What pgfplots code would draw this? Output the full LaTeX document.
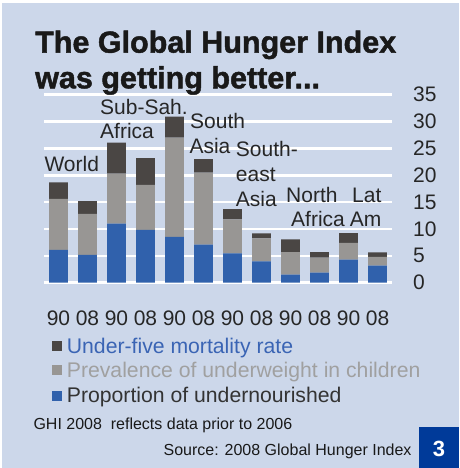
\documentclass[border=0pt]{standalone}
\usepackage{pgfplots}
\pgfplotsset{compat=1.18}
\usepackage{pgfplotstable}
\usepackage{fontspec}
\setmainfont{Liberation Sans}
\newfontfamily\titlefont[FakeBold=1.5]{Liberation Sans Bold}

\definecolor{bg}{HTML}{CCD7EA}
\definecolor{cblue}{HTML}{3061AC}
\definecolor{cgray}{HTML}{989694}
\definecolor{cdark}{HTML}{4A4644}
\definecolor{ltblue}{HTML}{3A64B4}
\definecolor{ltgray}{HTML}{A0A0A0}
\definecolor{navy}{HTML}{003A99}

% x, undernourished, underweight, under-five mortality
\pgfplotstableread{
x b g d
0 6.1 9.5 3.1
1 5.2 7.6 2.4
2 11.0 9.3 5.8
3 9.85 8.35 5.0
4 8.55 18.45 3.9
5 7.07 13.43 2.5
6 5.46 6.34 1.9
7 3.97 4.28 0.93
8 1.5 4.2 2.36
9 1.86 2.79 1.05
10 4.28 3.15 1.81
11 3.16 1.67 0.81
}\ghi

\newcommand\lbl{\fontsize{21}{21}\selectfont}
\newcommand\sml{\fontsize{16}{16}\selectfont}

\begin{document}
\begin{tikzpicture}[x=1pt,y=1pt]
\fill[white] (0,0) rectangle (459,-468);
\fill[bg] (2,-3) rectangle (459,-468);
\begin{axis}[
    at={(44pt,-282.7pt)}, anchor=south west,
    scale only axis, width=348pt, height=188pt,
    xmin=-0.5, xmax=11.5, ymin=0, ymax=35,
    ybar stacked, bar width=0.64,
    axis line style={draw=none},
    major tick length=0pt,
    ymajorgrids, grid style={white, line width=2.6pt},
    ytick={0,5,...,35}, yticklabel pos=right,
    xtick={0,...,11},
    xticklabels={90,08,90,08,90,08,90,08,90,08,90,08},
    /pgf/number format/assume math mode=true,
    tick label style={font=\lbl, text=black!85},
    yticklabel style={anchor=west, inner sep=0pt, xshift=21pt},
    xticklabel style={anchor=north, inner sep=0pt, yshift=-28pt},
]
\addplot[fill=cblue, draw=none] table[x=x, y=b] {\ghi};
\addplot[fill=cgray, draw=none] table[x=x, y=g] {\ghi};
\addplot[fill=cdark, draw=none] table[x=x, y=d] {\ghi};
\end{axis}

% title
\node[anchor=base west, inner sep=0, font=\titlefont\fontsize{30.5}{30.5}\selectfont, text=black!90] at (35,-52.7) {The Global Hunger Index};
\node[anchor=base west, inner sep=0, font=\titlefont\fontsize{30.5}{30.5}\selectfont, text=black!90] at (35,-88.3) {was getting better...};

% region labels
\begin{scope}[every node/.style={inner sep=0, font=\lbl, text=black!85}]
\node[anchor=base west] at (44.3,-171.7) {World};
\node[anchor=base west] at (100,-114.3) {Sub-Sah.};
\node[anchor=base west] at (100,-138.3) {Africa};
\node[anchor=base west] at (190,-128.3) {South};
\node[anchor=base west] at (189.3,-153.3) {Asia};
\node[anchor=base west] at (235.7,-156.7) {South-};
\node[anchor=base west] at (235.7,-181.7) {east};
\node[anchor=base west] at (235.7,-206.7) {Asia};
\node[anchor=base west] at (286,-202.3) {North};
\node[anchor=base west] at (291,-226.3) {Africa};
\node[anchor=base] at (366.8,-202.3) {Lat};
\node[anchor=base] at (365.5,-226.3) {Am};
\end{scope}

% legend
\fill[cdark] (51.7,-340.7) rectangle (61.7,-350.7);
\fill[cgray] (51.7,-365.2) rectangle (61.7,-375.2);
\fill[cblue] (51.7,-390.7) rectangle (61.7,-400.7);
\node[anchor=base west, inner sep=0, font=\fontsize{21.2}{21.2}\selectfont, text=ltblue] at (66.7,-353.3) {Under-five mortality rate};
\node[anchor=base west, inner sep=0, font=\fontsize{21.2}{21.2}\selectfont, text=ltgray] at (66.7,-377.7) {Prevalence of underweight in children};
\node[anchor=base west, inner sep=0, font=\fontsize{21.2}{21.2}\selectfont, text=black!80] at (66.7,-402.7) {Proportion of undernourished};

% notes
\node[anchor=base west, inner sep=0, font=\sml, text=black!90] at (33.3,-429) {GHI 2008\ \ reflects data prior to 2006};
\node[anchor=base east, inner sep=0, font=\sml, text=black!90] at (411.7,-455.7) {Source: 2008 Global Hunger Index};
\fill[navy] (419.3,-427.3) rectangle (459,-468);
\node[text=white, inner sep=0, font=\fontsize{22}{22}\selectfont\bfseries] at (439,-448.5) {3};
\end{tikzpicture}
\end{document}
